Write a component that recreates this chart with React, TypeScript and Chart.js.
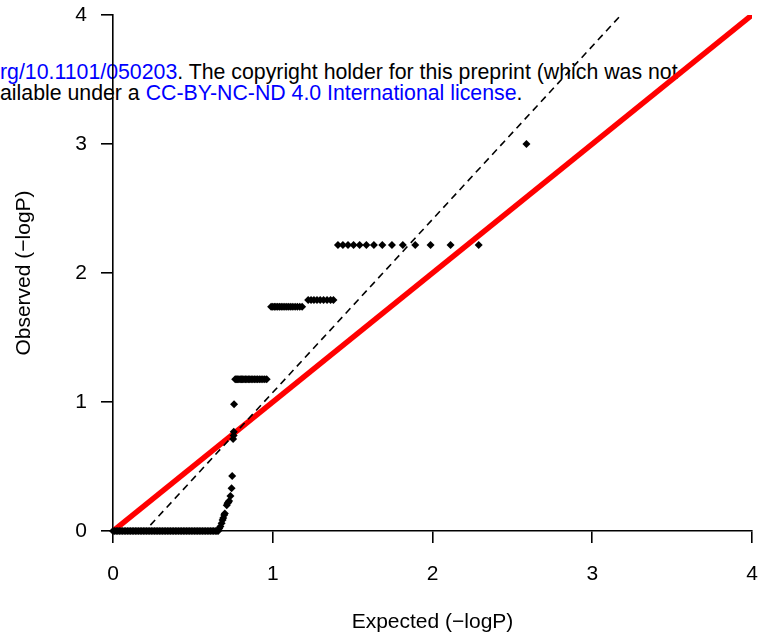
import React, { useEffect, useRef } from "react";
import { Chart, registerables } from "chart.js";

Chart.register(...registerables);

// Axis ticks
const xTicks = [0, 1, 2, 3, 4];
const yTicks = [0, 1, 2, 3, 4];

// QQ points: expected (-logP) per observed level
const band0Expected = [
  0.0, 0.01, 0.02, 0.03, 0.04, 0.05, 0.06, 0.07, 0.08, 0.09, 0.1, 0.11, 0.12,
  0.13, 0.14, 0.15, 0.16, 0.17, 0.18, 0.19, 0.2, 0.21, 0.22, 0.23, 0.24, 0.25,
  0.26, 0.27, 0.28, 0.29, 0.3, 0.31, 0.32, 0.33, 0.34, 0.35, 0.36, 0.37, 0.38,
  0.39, 0.4, 0.41, 0.42, 0.43, 0.44, 0.45, 0.46, 0.47, 0.48, 0.49, 0.5, 0.51,
  0.52, 0.53, 0.54, 0.55, 0.56, 0.57, 0.58, 0.59, 0.6, 0.61, 0.62, 0.63, 0.64,
  0.65, 0.658,
];
const riseExpected = [0.665, 0.672, 0.68, 0.686, 0.69, 0.696, 0.7, 0.712, 0.717, 0.722, 0.727, 0.735, 0.742, 0.746];
const riseObserved = [0.02, 0.035, 0.06, 0.085, 0.1, 0.124, 0.135, 0.2, 0.215, 0.222, 0.232, 0.271, 0.331, 0.426];
const midExpected = [0.752, 0.755, 0.756, 0.758];
const midObserved = [0.713, 0.74, 0.77, 0.982];
const level1Expected = [
  0.765, 0.772, 0.78, 0.788, 0.796, 0.804, 0.812, 0.82, 0.829, 0.838, 0.847,
  0.856, 0.865, 0.875, 0.885, 0.895, 0.905, 0.916, 0.927, 0.938, 0.95, 0.962,
];
const level1Observed = 1.176;
const level2Expected = [
  0.99, 1.0, 1.01, 1.02, 1.031, 1.042, 1.053, 1.064, 1.076, 1.088, 1.1, 1.113,
  1.126, 1.14, 1.154, 1.169, 1.184,
];
const level2Observed = 1.739;
const level3Expected = [1.222, 1.24, 1.258, 1.277, 1.297, 1.318, 1.34, 1.362, 1.38];
const level3Observed = 1.79;
const level4Expected = [
  1.408, 1.439, 1.471, 1.506, 1.544, 1.586, 1.633, 1.686, 1.746, 1.814, 1.892,
  1.988, 2.113, 2.289,
];
const level4Observed = 2.217;
const topExpected = [2.588];
const topObserved = [3.0];

// Reference lines
const identityX = [0, 4];
const identityY = [0, 4];
const fitX = [0.2, 3.18];
const fitY = [0, 4];

const FONT = "'Liberation Sans', Arial, Helvetica, sans-serif";

export default function App() {
  const ref = useRef<HTMLCanvasElement | null>(null);

  useEffect(() => {
    const canvas = ref.current;
    if (!canvas) return;

    const pts: { x: number; y: number }[] = [];
    band0Expected.forEach((x) => pts.push({ x, y: 0 }));
    riseExpected.forEach((x, i) => pts.push({ x, y: riseObserved[i] }));
    midExpected.forEach((x, i) => pts.push({ x, y: midObserved[i] }));
    level1Expected.forEach((x) => pts.push({ x, y: level1Observed }));
    level2Expected.forEach((x) => pts.push({ x, y: level2Observed }));
    level3Expected.forEach((x) => pts.push({ x, y: level3Observed }));
    level4Expected.forEach((x) => pts.push({ x, y: level4Observed }));
    topExpected.forEach((x, i) => pts.push({ x, y: topObserved[i] }));

    const font = { family: FONT, size: 21, lineHeight: 1.2 };

    const chart = new Chart(canvas, {
      type: "scatter",
      data: {
        datasets: [
          {
            label: "QQ",
            data: pts,
            pointStyle: "rectRot",
            pointRadius: 4,
            pointBackgroundColor: "#000",
            pointBorderColor: "#000",
            pointBorderWidth: 0,
            showLine: false,
            clip: false,
          } as any,
          {
            label: "fit",
            data: fitX.map((x, i) => ({ x, y: fitY[i] })),
            showLine: true,
            borderColor: "#000",
            borderWidth: 1.6,
            borderDash: [7, 5],
            borderDashOffset: 4,
            pointRadius: 0,
          },
          {
            label: "identity",
            data: identityX.map((x, i) => ({ x, y: identityY[i] })),
            showLine: true,
            borderColor: "#ff0000",
            borderWidth: 5.5,
            pointRadius: 0,
          },
        ],
      },
      options: {
        responsive: false,
        animation: false,
        events: [],
        layout: { padding: { top: 15, right: 19, left: 0, bottom: 0 } },
        plugins: { legend: { display: false }, tooltip: { enabled: false } },
        scales: {
          x: {
            type: "linear",
            min: 0,
            max: 4,
            afterBuildTicks: (s: any) => {
              s.ticks = xTicks.map((v) => ({ value: v }));
            },
            afterFit: (s: any) => {
              s.height = 109;
              s.paddingLeft = 0;
              s.paddingRight = 0;
            },
            ticks: { color: "#000", font, padding: 19, maxRotation: 0 },
            grid: {
              drawOnChartArea: false,
              drawTicks: true,
              tickLength: 12,
              color: "#000",
              lineWidth: 1.6,
            },
            border: { display: true, color: "#000", width: 1.6 },
            title: {
              display: true,
              text: "Expected (\u2212logP)",
              color: "#000",
              font,
              padding: { top: 0, bottom: 5 },
            },
          },
          y: {
            type: "linear",
            min: 0,
            max: 4,
            afterBuildTicks: (s: any) => {
              s.ticks = yTicks.map((v) => ({ value: v }));
            },
            afterFit: (s: any) => {
              s.width = 113;
              s.paddingTop = 0;
              s.paddingBottom = 0;
            },
            ticks: { color: "#000", font, padding: 14 },
            grid: {
              drawOnChartArea: false,
              drawTicks: true,
              tickLength: 12,
              color: "#000",
              lineWidth: 1.6,
            },
            border: { display: true, color: "#000", width: 1.6 },
            title: {
              display: true,
              text: "Observed (\u2212logP)",
              color: "#000",
              font,
              padding: { top: 12, bottom: 0 },
            },
          },
        },
      },
    });
    return () => chart.destroy();
  }, []);

  const wm: React.CSSProperties = {
    position: "absolute",
    left: 0,
    whiteSpace: "nowrap",
    fontFamily: FONT,
    fontSize: 21.3,
    lineHeight: "24px",
    color: "#000",
  };
  const blue = { color: "#0000ff" };

  return (
    <div
      style={{
        position: "absolute",
        left: 0,
        top: 0,
        width: 771,
        height: 640,
        background: "#fff",
        overflow: "hidden",
      }}
    >
      <div style={{ ...wm, top: 60 }}>
        <span style={blue}>rg/10.1101/050203</span>. The copyright holder for this preprint (which was not
      </div>
      <div style={{ ...wm, top: 81 }}>
        ailable under a <span style={blue}>CC-BY-NC-ND 4.0 International license</span>.
      </div>
      <canvas
        ref={ref}
        width={771}
        height={640}
        style={{ position: "absolute", left: 0, top: 0, width: 771, height: 640 }}
      />
    </div>
  );
}
